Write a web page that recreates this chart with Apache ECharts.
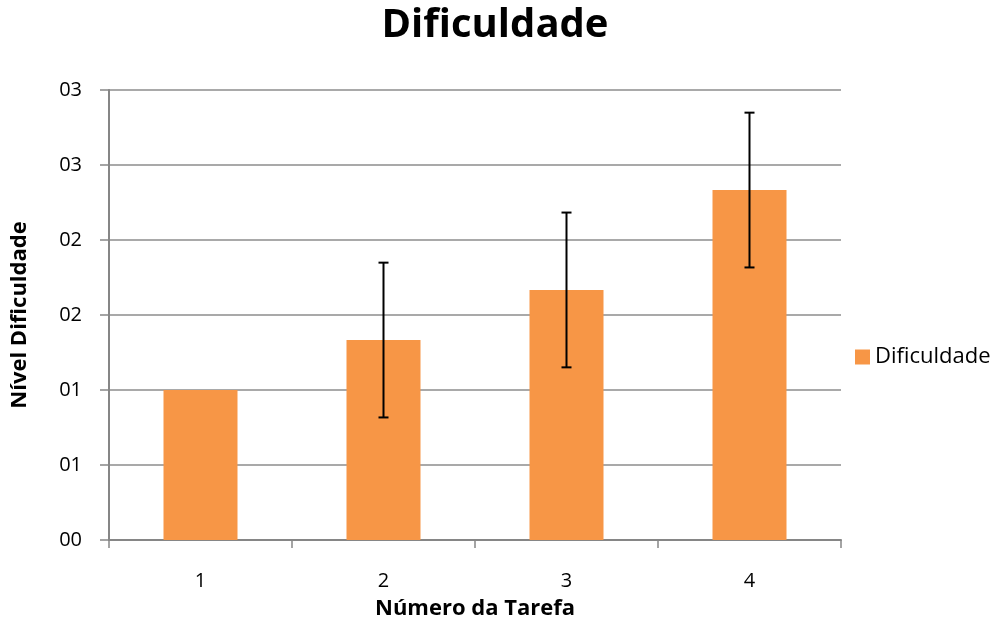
<!DOCTYPE html>
<html>
<head>
<meta charset="utf-8">
<script src="https://cdn.jsdelivr.net/npm/echarts@6/dist/echarts.min.js"></script>
<style>html,body{margin:0;padding:0;background:#fff}#c{width:996px;height:622px}</style>
</head>
<body>
<div id="c"></div>
<script>
const categories = ['1', '2', '3', '4'];
const values = [1.0, 1.333, 1.667, 2.333];
const errors = [0, 0.516, 0.516, 0.516];
const yTickLabels = ['00', '01', '01', '02', '02', '03', '03'];
const seriesName = 'Dificuldade';

const FONT = '"Open Sans", "Noto Sans", sans-serif';
const chart = echarts.init(document.getElementById('c'));

const errData = categories.map((c, i) => [i, values[i] - errors[i], values[i] + errors[i]]);

chart.setOption({
  animation: false,
  title: {
    text: 'Dificuldade', left: 490, top: 1, textAlign: 'center',
    textStyle: { fontFamily: FONT, fontSize: 40, fontWeight: 'bold', color: '#000' }
  },
  legend: {
    data: [seriesName], orient: 'vertical', left: 850, top: 341,
    itemWidth: 15, itemHeight: 15, icon: 'rect', itemGap: 6,
    textStyle: { fontFamily: FONT, fontSize: 22, color: '#000' }
  },
  grid: { left: 109, right: 155, top: 90, bottom: 82, containLabel: false, outerBoundsMode: 'none' },
  xAxis: {
    type: 'category', data: categories,
    name: 'Número da Tarefa', nameLocation: 'middle', nameGap: 58,
    nameTextStyle: { fontFamily: FONT, fontSize: 22, fontWeight: 'bold', color: '#000' },
    axisLine: { lineStyle: { color: '#868686', width: 2 } },
    axisTick: { show: true, alignWithLabel: false, length: 8, lineStyle: { color: '#868686', width: 1.5 } },
    axisLabel: { fontFamily: FONT, fontSize: 20, color: '#000', margin: 31 }
  },
  yAxis: {
    type: 'value', min: 0, max: 3, interval: 0.5,
    name: 'Nível Dificuldade', nameLocation: 'middle', nameGap: 78, nameRotate: 90,
    nameTextStyle: { fontFamily: FONT, fontSize: 22, fontWeight: 'bold', color: '#000' },
    axisLine: { show: true, lineStyle: { color: '#868686', width: 2 } },
    axisTick: { show: true, length: 9, lineStyle: { color: '#868686', width: 1.5 } },
    axisLabel: {
      fontFamily: FONT, fontSize: 20, color: '#000', margin: 27,
      formatter: (v, i) => yTickLabels[i]
    },
    splitLine: { lineStyle: { color: '#8c8c8c', width: 1.5 } }
  },
  series: [
    {
      name: seriesName, type: 'bar', data: values, barWidth: 74,
      itemStyle: { color: '#F79646' }
    },
    {
      type: 'custom', name: 'err', data: errData, z: 10,
      renderItem: function (params, api) {
        const x = api.value(0);
        const lo = api.coord([x, api.value(1)]);
        const hi = api.coord([x, api.value(2)]);
        if (Math.abs(lo[1] - hi[1]) < 0.5) return null;
        const hw = 5;
        const style = { stroke: '#000', lineWidth: 2 };
        return {
          type: 'group',
          children: [
            { type: 'line', shape: { x1: hi[0], y1: hi[1], x2: lo[0], y2: lo[1] }, style },
            { type: 'line', shape: { x1: hi[0] - hw, y1: hi[1], x2: hi[0] + hw, y2: hi[1] }, style },
            { type: 'line', shape: { x1: lo[0] - hw, y1: lo[1], x2: lo[0] + hw, y2: lo[1] }, style }
          ]
        };
      }
    }
  ]
});
</script>
</body>
</html>
